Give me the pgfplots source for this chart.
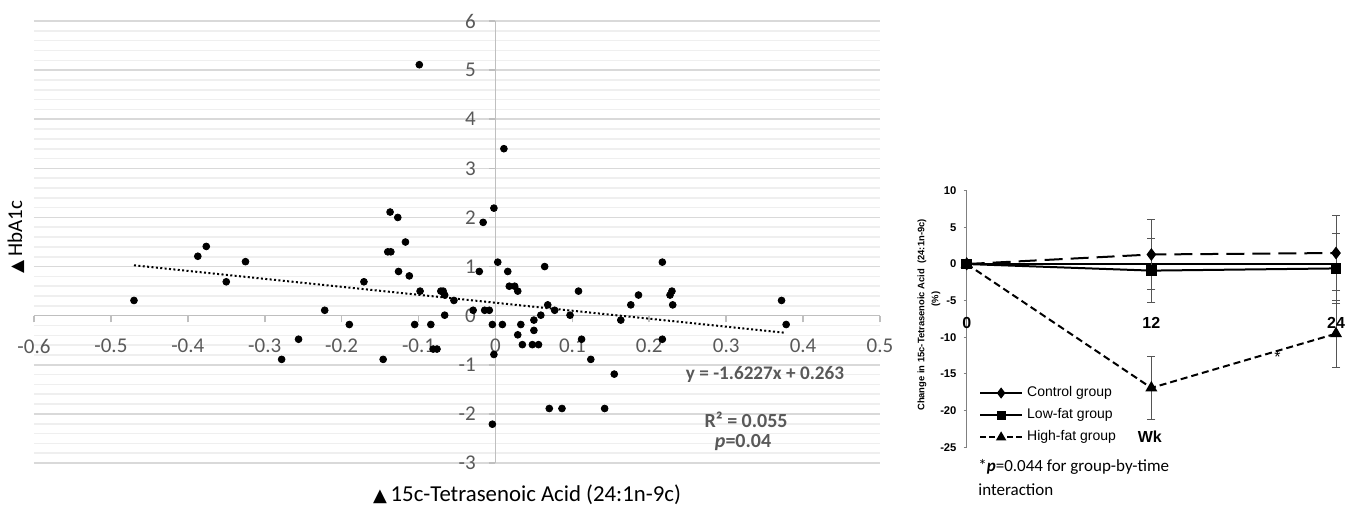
\documentclass[border=0pt]{standalone}
\usepackage{fontspec}
\setmainfont{Carlito}
\newfontfamily\arial{Liberation Sans}
\newfontfamily\dejavu{DejaVu Sans}
\usepackage{pgfplots}
\pgfplotsset{compat=1.18}
\definecolor{tickgray}{HTML}{595959}
\definecolor{axisgray}{HTML}{BFBFBF}
\definecolor{majgrid}{HTML}{D9D9D9}
\definecolor{mingrid}{HTML}{EFEFEF}
\definecolor{errgray}{HTML}{555555}
\begin{document}
\begin{tikzpicture}
\useasboundingbox (0,0) rectangle (674.5pt,254.5pt);

% left: scatter
\begin{axis}[
    at={(17pt,23pt)}, anchor=south west,
    scale only axis, width=423pt, height=221pt,
    xmin=-0.6, xmax=0.5, ymin=-3, ymax=6,
    axis x line=middle, axis y line=middle,
    axis line style={-, draw=axisgray, line width=0.8pt},
    hide obscured x ticks=false, hide obscured y ticks=false,
    xtick={-0.6,-0.5,-0.4,-0.3,-0.2,-0.1,0,0.1,0.2,0.3,0.4,0.5},
    xticklabels={-0.6,-0.5,-0.4,-0.3,-0.2,-0.1,0,0.1,0.2,0.3,0.4,0.5},
    ytick={-3,-2,-1,0,1,2,3,4,5,6},
    yticklabel={\pgfmathparse{int(round(\tick))}\pgfmathresult},
    minor y tick num=4, minor tick length=0pt,
    ymajorgrids, yminorgrids,
    major grid style={draw=majgrid, line width=0.8pt},
    minor grid style={draw=mingrid, line width=0.8pt},
    tick style={draw=axisgray, line width=0.8pt},
    major tick length=3.3pt, tick align=outside,
    ticklabel style={font=\fontsize{10.5}{12}\selectfont, text=tickgray},
    xticklabel style={yshift=-5pt},
    yticklabel style={xshift=-3pt},
    clip=false,
]
\addplot[only marks, mark=*, mark size=1.7pt, black] coordinates {
(-0.470,0.31) (-0.387,1.21) (-0.376,1.41) (-0.350,0.69) (-0.325,1.10)
(-0.278,-0.89) (-0.256,-0.48) (-0.222,0.11) (-0.190,-0.18) (-0.171,0.69)
(-0.146,-0.89) (-0.140,1.30) (-0.136,1.30) (-0.137,2.11) (-0.127,2.00)
(-0.126,0.90) (-0.117,1.50) (-0.112,0.81) (-0.105,-0.18) (-0.099,5.11)
(-0.098,0.50) (-0.084,-0.18) (-0.081,-0.68) (-0.076,-0.68) (-0.071,0.50)
(-0.068,0.50) (-0.066,0.42) (-0.066,0.01) (-0.054,0.31) (-0.029,0.11)
(-0.021,0.90) (-0.016,1.90) (-0.014,0.11) (-0.008,0.11) (-0.004,-0.18)
(-0.002,-0.79) (-0.004,-2.21) (-0.002,2.19) (0.003,1.09) (0.009,-0.18)
(0.011,3.40) (0.016,0.90) (0.018,0.60) (0.025,0.60) (0.029,0.50)
(0.029,-0.39) (0.033,-0.18) (0.035,-0.59) (0.048,-0.59) (0.056,-0.59)
(0.050,-0.30) (0.050,-0.09) (0.059,0.01) (0.064,1.00) (0.068,0.22)
(0.070,-1.89) (0.077,0.11) (0.0865,-1.89) (0.097,0.01) (0.108,0.50)
(0.112,-0.48) (0.124,-0.89) (0.142,-1.89) (0.1545,-1.19) (0.163,-0.09)
(0.176,0.22) (0.186,0.42) (0.217,1.09) (0.217,-0.48) (0.227,0.42)
(0.2295,0.50) (0.2305,0.22) (0.372,0.31) (0.378,-0.18)
};
% linear trend y = -1.6227x + 0.263
\addplot[black, line width=1pt, dash pattern=on 1pt off 1.2pt] coordinates {(-0.47,1.0257) (0.375,-0.3455)};
\node[font=\bfseries\fontsize{9.6}{11}\selectfont, text=tickgray] at (axis cs:0.3505,-1.19) {y = -1.6227x + 0.263};
\node[font=\bfseries\fontsize{10}{12}\selectfont, text=tickgray] at (axis cs:0.326,-2.12) {R² = 0.055};
\node[font=\bfseries\fontsize{10}{12}\selectfont, text=tickgray] at (axis cs:0.322,-2.59) {\textit{p}=0.04};
\end{axis}

% left labels
\node[rotate=90, font=\fontsize{10.5}{12}\selectfont] at (8pt,136pt) {{\dejavu\fontsize{8.5}{10}\selectfont ▲}\,HbA1c};
\node[font=\fontsize{11.4}{13}\selectfont] at (263.5pt,7pt) {{\dejavu\fontsize{9}{10}\selectfont ▲}\,15c-Tetrasenoic Acid (24:1n-9c)};

% right: line chart
\begin{axis}[
    at={(483.35pt,30.85pt)}, anchor=south west,
    scale only axis, width=184.65pt, height=128.3pt,
    xmin=0, xmax=24, ymin=-25, ymax=10,
    axis x line=middle, axis y line=left,
    x axis line style={-, black, line width=1.1pt},
    y axis line style={-, draw=gray, line width=0.5pt},
    xtick=\empty,
    ytick={-25,-20,-15,-10,-5,0,5,10},
    yticklabel={\pgfmathparse{int(round(\tick))}\pgfmathresult},
    ytick style={draw=gray, line width=0.5pt},
    major tick length=1.6pt, tick align=outside,
    yticklabel style={font=\arial\bfseries\fontsize{5.6}{6}\selectfont},
    clip=false,
    legend cell align=left,
    legend style={draw=none, fill=none, at={(0.027,0.262)}, anchor=north west,
        font=\arial\fontsize{7}{8}\selectfont, row sep=0.5pt, inner sep=1pt},
    legend image code/.code={\draw[#1, mark repeat=2, mark phase=2] plot coordinates {(0cm,0cm) (0.37cm,0cm) (0.74cm,0cm)};},
]
\addplot[forget plot, black, line width=1pt, dash pattern=on 9pt off 4pt,
    mark=diamond*, mark size=2.4pt, mark options={solid},
    error bars/.cd, y dir=both, y explicit,
    error bar style={errgray, line width=0.5pt, solid},
    error mark options={rotate=90, mark size=2pt, errgray, line width=0.5pt}]
    coordinates {(0,0) +- (0,0) (12,1.3) +- (0,4.8) (24,1.5) +- (0,5.1)};
\addplot[forget plot, black, line width=1pt,
    mark=square*, mark size=2.2pt,
    error bars/.cd, y dir=both, y explicit,
    error bar style={errgray, line width=0.5pt, solid},
    error mark options={rotate=90, mark size=2pt, errgray, line width=0.5pt}]
    coordinates {(0,0) +- (0,0) (12,-0.9) +- (0,4.4) (24,-0.6) +- (0,4.8)};
\addplot[forget plot, black, line width=1pt, dash pattern=on 3.5pt off 2pt,
    mark=triangle*, mark size=2.5pt, mark options={solid},
    error bars/.cd, y dir=both, y explicit,
    error bar style={errgray, line width=0.5pt, solid},
    error mark options={rotate=90, mark size=2pt, errgray, line width=0.5pt}]
    coordinates {(0,0) +- (0,0) (12,-16.9) +- (0,4.3) (24,-9.5) +- (0,4.55)};
\addlegendimage{black, line width=1pt, mark=diamond*, mark size=2pt}
\addlegendentry{Control group}
\addlegendimage{black, line width=1pt, mark=square*, mark size=1.8pt}
\addlegendentry{Low-fat group}
\addlegendimage{black, line width=1pt, dash pattern=on 3pt off 1.5pt, mark=triangle*, mark size=2pt, mark options={solid}}
\addlegendentry{High-fat group}
\node[font=\arial\bfseries\fontsize{8}{9}\selectfont] at (axis cs:0,-8.05) {0};
\node[font=\arial\bfseries\fontsize{8}{9}\selectfont] at (axis cs:12,-8.05) {12};
\node[font=\arial\bfseries\fontsize{8}{9}\selectfont] at (axis cs:24,-8.05) {24};
\node[font=\arial\bfseries\fontsize{8}{9}\selectfont] at (axis cs:11.9,-23.6) {Wk};
\node[font=\arial\fontsize{8}{9}\selectfont] at (axis cs:20.2,-12.7) {*};
\end{axis}

% right labels
\node[rotate=90, font=\arial\bfseries\fontsize{4.7}{5.5}\selectfont] at (461pt,97pt) {Change in 15c-Tetrasenoic Acid~ (24:1n-9c)};
\node[rotate=90, font=\arial\bfseries\fontsize{4.7}{5.5}\selectfont] at (468pt,105pt) {(\%)};
\node[anchor=west, font=\fontsize{8.5}{10}\selectfont, inner sep=0pt] at (489pt,21pt) {*\textbf{\textit{p}}=0.044 for group-by-time};
\node[anchor=west, font=\fontsize{8.5}{10}\selectfont, inner sep=0pt] at (489pt,9.5pt) {interaction};
\end{tikzpicture}
\end{document}
